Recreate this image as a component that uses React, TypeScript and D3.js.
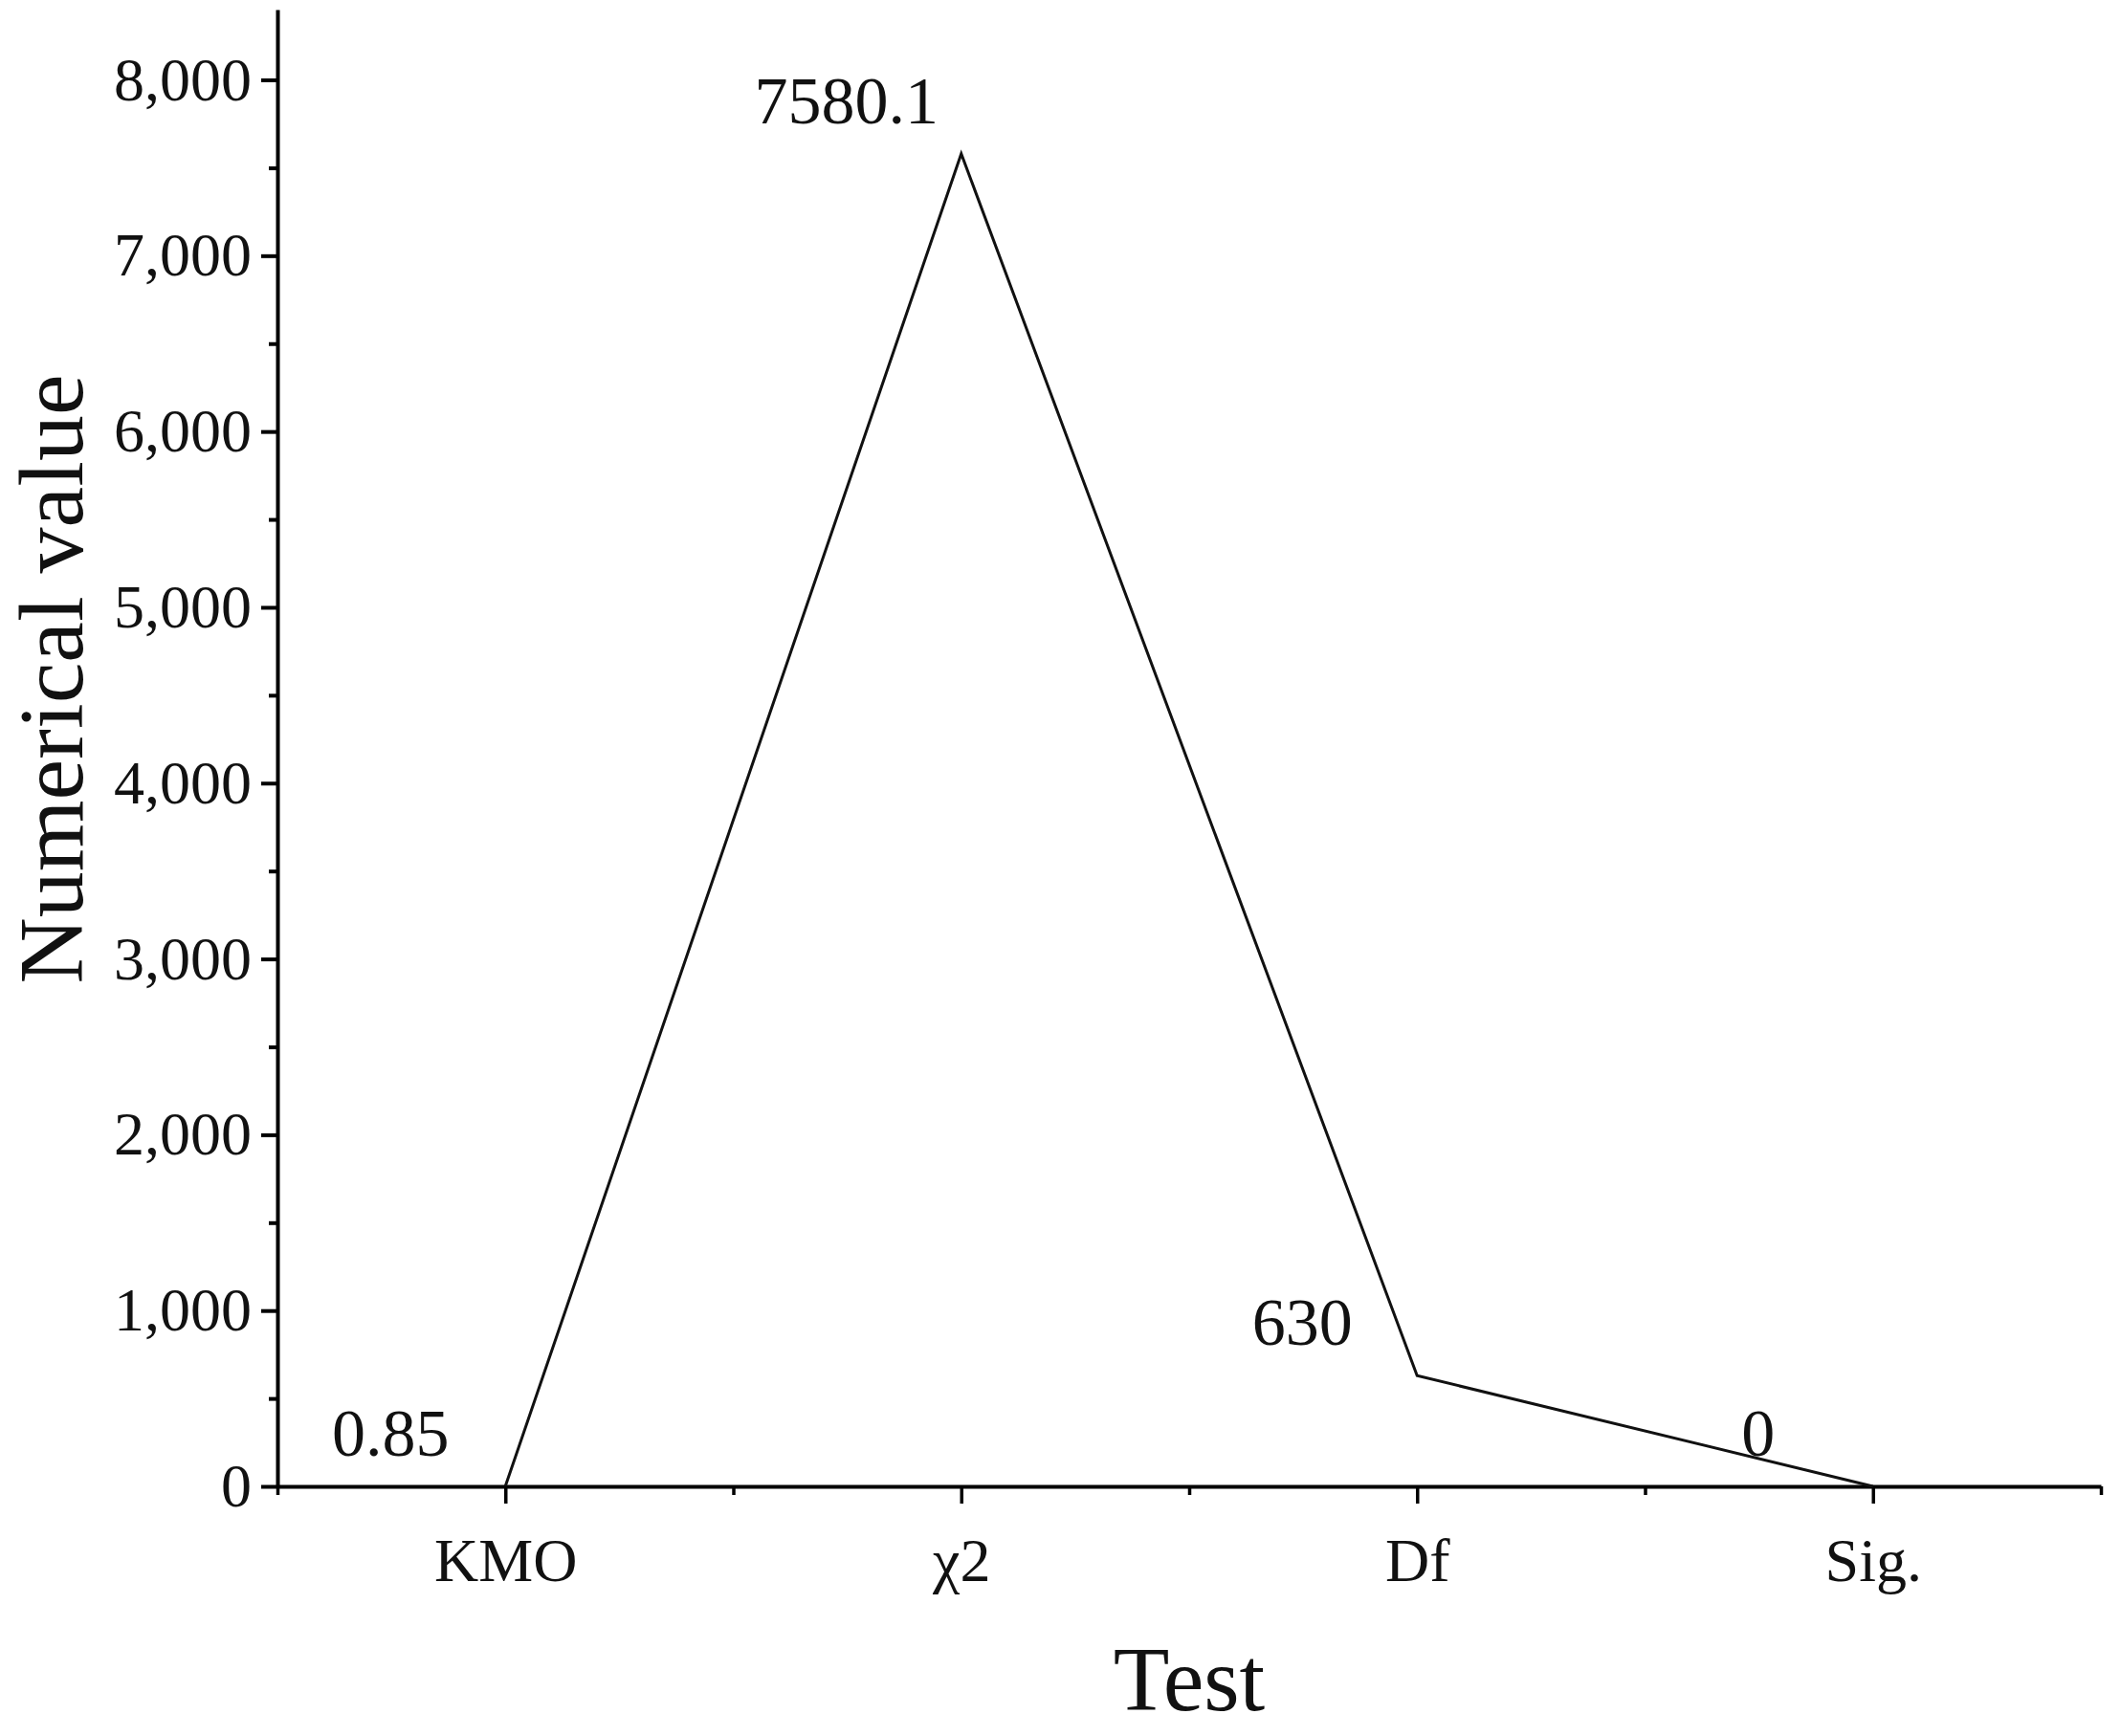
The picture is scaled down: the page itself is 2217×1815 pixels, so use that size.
import { useRef, useEffect } from 'react';
import * as d3 from 'd3';

const categories = ['KMO', 'χ2', 'Df', 'Sig.'];
const values = [0.85, 7580.1, 630, 0];
const valueLabels = ['0.85', '7580.1', '630', '0'];
const yTicks = [0, 1000, 2000, 3000, 4000, 5000, 6000, 7000, 8000];
const yMinorTicks = [500, 1500, 2500, 3500, 4500, 5500, 6500, 7500];
const xMinorTicks = [-0.5, 0.5, 1.5, 2.5, 3.5];

const WIDTH = 2217;
const HEIGHT = 1815;
const FONT = '"Liberation Serif", "Times New Roman", serif';

export default function App() {
  const svgRef = useRef<SVGSVGElement>(null);

  useEffect(() => {
    if (!svgRef.current) return;
    const svg = d3.select(svgRef.current);
    svg.selectAll('*').remove();

    const x = d3.scaleLinear().domain([-0.5, 3.5]).range([290, 2196]);
    const y = d3.scaleLinear().domain([0, 8400]).range([1554, 10]);

    svg.append('rect').attr('width', WIDTH).attr('height', HEIGHT).attr('fill', '#fff');

    // y axis
    const yAxis = svg
      .append('g')
      .attr('transform', `translate(${x(-0.5)},0)`)
      .call(
        d3.axisLeft(y)
          .tickValues(yTicks)
          .tickSize(17)
          .tickSizeOuter(0)
          .tickPadding(10)
          .tickFormat((d) => d3.format(',')(d as number))
      );
    yAxis.select('.domain').attr('stroke-width', 4);
    yAxis.selectAll('.tick line').attr('stroke-width', 4);
    yAxis
      .selectAll('.tick text')
      .attr('font-family', FONT)
      .attr('font-size', 64)
      .attr('fill', '#111');

    svg
      .append('g')
      .attr('transform', `translate(${x(-0.5)},0)`)
      .call(d3.axisLeft(y).tickValues(yMinorTicks).tickSize(9).tickSizeOuter(0).tickFormat(() => ''))
      .call((g) => g.select('.domain').remove())
      .selectAll('.tick line')
      .attr('stroke-width', 4);

    // x axis
    const xAxis = svg
      .append('g')
      .attr('transform', `translate(0,${y(0)})`)
      .call(
        d3.axisBottom(x)
          .tickValues([0, 1, 2, 3])
          .tickSize(18)
          .tickSizeOuter(0)
          .tickPadding(36)
          .tickFormat((d) => categories[d as number])
      );
    xAxis.select('.domain').attr('stroke-width', 4);
    xAxis.selectAll('.tick line').attr('stroke-width', 3.5);
    xAxis
      .selectAll('.tick text')
      .attr('font-family', FONT)
      .attr('font-size', 64)
      .attr('fill', '#111');

    svg
      .append('g')
      .attr('transform', `translate(0,${y(0)})`)
      .call(d3.axisBottom(x).tickValues(xMinorTicks).tickSize(9).tickSizeOuter(0).tickFormat(() => ''))
      .call((g) => g.select('.domain').remove())
      .selectAll('.tick line')
      .attr('stroke-width', 3.5);

    // line
    const line = d3
      .line<number>()
      .x((_, i) => x(i))
      .y((d) => y(d));

    svg
      .append('path')
      .datum(values)
      .attr('d', line)
      .attr('fill', 'none')
      .attr('stroke', '#111')
      .attr('stroke-width', 3)
      .attr('stroke-linejoin', 'miter');

    // value labels
    svg
      .selectAll('.value-label')
      .data(values)
      .join('text')
      .attr('class', 'value-label')
      .attr('x', (_, i) => x(i) - 120)
      .attr('y', (d) => y(d) - 32)
      .attr('text-anchor', 'middle')
      .attr('font-family', FONT)
      .attr('font-size', 70)
      .attr('fill', '#111')
      .text((_, i) => valueLabels[i]);

    // axis titles
    svg
      .append('text')
      .attr('x', (x(-0.5) + x(3.5)) / 2)
      .attr('y', 1788)
      .attr('text-anchor', 'middle')
      .attr('font-family', FONT)
      .attr('font-size', 96)
      .attr('fill', '#111')
      .text('Test');

    svg
      .append('text')
      .attr('transform', `translate(86,710) rotate(-90)`)
      .attr('text-anchor', 'middle')
      .attr('font-family', FONT)
      .attr('font-size', 96)
      .attr('fill', '#111')
      .text('Numerical value');
  }, []);

  return (
    <svg
      ref={svgRef}
      width={WIDTH}
      height={HEIGHT}
      style={{ position: 'absolute', left: 0, top: 0, display: 'block' }}
    />
  );
}
